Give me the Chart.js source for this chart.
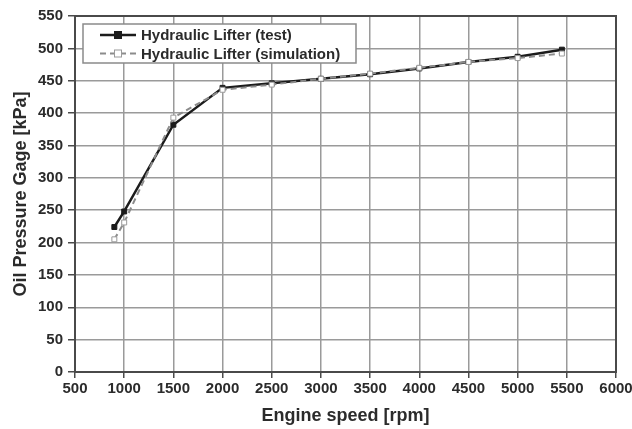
<!DOCTYPE html>
<html lang="en">
<head>
    <meta charset="UTF-8">
    <title>Oil Pressure vs Engine Speed</title>
    <script src="https://cdn.jsdelivr.net/npm/chart.js"></script>
    <style>
        body { margin: 0; background: #fff; }
        #chart-box { width: 632px; height: 429px; }
    </style>
</head>
<body>
    <div id="chart-box">
        <canvas id="oil-chart" width="632" height="429"></canvas>
    </div>

    <script>
        // Values
        const testSpeeds = [900, 1000, 1500, 2000, 2500, 3000, 3500, 4000, 4500, 5000, 5450];
        const testPressure = [224, 248, 382, 439, 446, 453, 460, 469, 479, 487, 498];
        const simSpeeds = [900, 1000, 1500, 2000, 2500, 3000, 3500, 4000, 4500, 5000, 5450];
        const simPressure = [205, 231, 393, 436, 444, 453, 461, 470, 479, 485, 492];
        const seriesNames = ['Hydraulic Lifter (test)', 'Hydraulic Lifter (simulation)'];
        const xTitle = 'Engine speed [rpm]';
        const yTitle = 'Oil Pressure Gage [kPa]';

        const textColor = '#2b2b2b';
        const gridColor = '#9a9a9a';
        const frameColor = '#4a4a4a';
        const tickFont = { family: '"Liberation Sans", Arial, sans-serif', size: 15, weight: 'bold' };
        const titleFont = { family: '"Liberation Sans", Arial, sans-serif', size: 18, weight: 'bold' };

        const toPoints = (xs, ys) => xs.map((x, i) => ({ x: x, y: ys[i] }));

        // frame around the plot + legend box in the upper left
        const framePlugin = {
            id: 'frameAndLegend',
            afterDraw(chart) {
                const ctx = chart.ctx;
                const a = chart.chartArea;
                ctx.save();
                ctx.strokeStyle = frameColor;
                ctx.lineWidth = 2;
                ctx.strokeRect(a.left, a.top, a.right - a.left, a.bottom - a.top);

                // legend
                const bx = a.left + 8, by = a.top + 8, bw = 273, bh = 39;
                ctx.fillStyle = '#fff';
                ctx.fillRect(bx, by, bw, bh);
                ctx.strokeStyle = '#8a8a8a';
                ctx.lineWidth = 1.5;
                ctx.strokeRect(bx, by, bw, bh);

                chart.data.datasets.forEach((ds, i) => {
                    const cy = by + 11 + i * 18.5;
                    const x0 = bx + 17, x1 = bx + 53;
                    ctx.strokeStyle = ds.borderColor;
                    ctx.lineWidth = ds.borderWidth;
                    ctx.setLineDash(ds.borderDash || []);
                    ctx.beginPath();
                    ctx.moveTo(x0, cy);
                    ctx.lineTo(x1, cy);
                    ctx.stroke();
                    ctx.setLineDash([]);
                    const mx = (x0 + x1) / 2, r = ds.pointRadius;
                    ctx.fillStyle = ds.pointBackgroundColor;
                    ctx.fillRect(mx - r, cy - r, 2 * r, 2 * r);
                    ctx.strokeStyle = ds.pointBorderColor;
                    ctx.lineWidth = ds.pointBorderWidth;
                    ctx.strokeRect(mx - r, cy - r, 2 * r, 2 * r);

                    ctx.fillStyle = textColor;
                    ctx.font = 'bold 15px "Liberation Sans", Arial, sans-serif';
                    ctx.textBaseline = 'middle';
                    ctx.textAlign = 'left';
                    ctx.fillText(ds.label, x1 + 5, cy + 1);
                });
                ctx.restore();
            }
        };

        const ctx = document.getElementById('oil-chart').getContext('2d');
        const oilChart = new Chart(ctx, {
            type: 'line',
            data: {
                datasets: [{
                    label: seriesNames[0],
                    data: toPoints(testSpeeds, testPressure),
                    borderColor: '#1c1c1c',
                    borderWidth: 2.5,
                    pointStyle: 'rect',
                    pointRadius: 3.5,
                    pointBackgroundColor: '#1c1c1c',
                    pointBorderColor: '#1c1c1c',
                    pointBorderWidth: 1,
                    order: 2
                },
                {
                    label: seriesNames[1],
                    data: toPoints(simSpeeds, simPressure),
                    borderColor: '#8c8c8c',
                    borderWidth: 2,
                    borderDash: [6, 4],
                    pointStyle: 'rect',
                    pointRadius: 3.5,
                    pointBackgroundColor: '#ffffff',
                    pointBorderColor: '#9a9a9a',
                    pointBorderWidth: 1,
                    order: 1
                }]
            },
            options: {
                responsive: false,
                animation: false,
                devicePixelRatio: 1,
                layout: { padding: { top: 16, right: 16, left: 0, bottom: 0 } },
                plugins: {
                    legend: { display: false },
                    tooltip: { enabled: false }
                },
                scales: {
                    x: {
                        type: 'linear',
                        min: 500,
                        max: 6000,
                        ticks: {
                            stepSize: 500, color: textColor, font: tickFont, padding: 2, maxRotation: 0,
                            callback: value => String(value)
                        },
                        grid: { color: gridColor, lineWidth: 1.5, tickLength: 6, tickColor: frameColor },
                        border: { color: frameColor, width: 2 },
                        title: { display: true, text: xTitle, color: textColor, font: titleFont, padding: { bottom: 2 } },
                        afterFit(scale) { scale.height = 57; scale.paddingRight = 0; }
                    },
                    y: {
                        min: 0,
                        max: 550,
                        ticks: { stepSize: 50, color: textColor, font: tickFont, padding: 5 },
                        grid: { color: gridColor, lineWidth: 1.5, tickLength: 7, tickColor: frameColor },
                        border: { color: frameColor, width: 2 },
                        title: { display: true, text: yTitle, color: textColor, font: titleFont, padding: { top: 10 } },
                        afterFit(scale) { scale.width = 75; }
                    }
                }
            },
            plugins: [framePlugin]
        });
    </script>
</body>
</html>
